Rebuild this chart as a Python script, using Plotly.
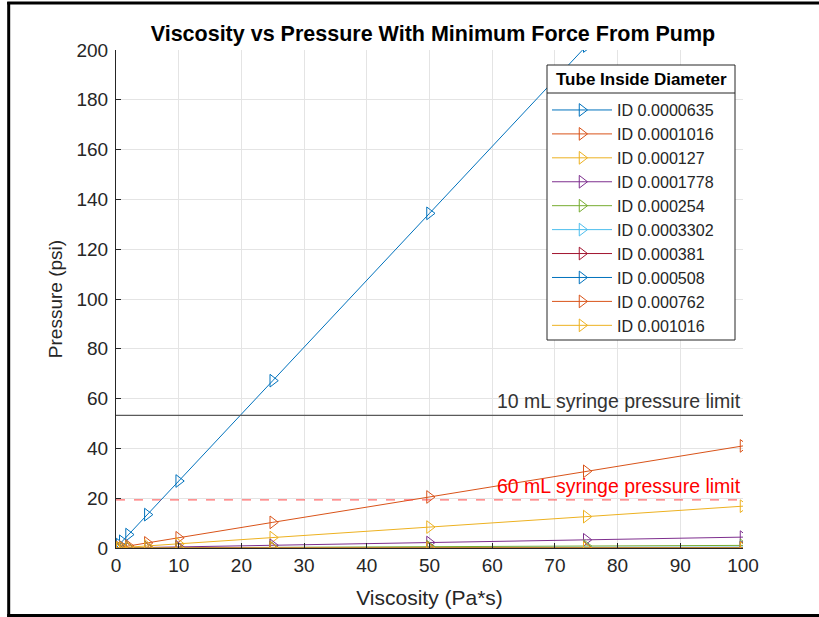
import plotly.graph_objects as go

# ---- data ----
viscosity = [0.1, 0.5, 1, 2, 5, 10, 25, 50, 75, 100]

diameter_labels = ["ID 0.0000635", "ID 0.0001016", "ID 0.000127", "ID 0.0001778",
                   "ID 0.000254", "ID 0.0003302", "ID 0.000381", "ID 0.000508",
                   "ID 0.000762", "ID 0.001016"]

p_0000635 = [0.27, 1.35, 2.69, 5.38, 13.4, 26.9, 67.2, 134.4, 201.6, 268.8]
p_0001016 = [0.04, 0.21, 0.41, 0.82, 2.05, 4.1, 10.3, 20.5, 30.8, 41.0]
p_000127 = [0.017, 0.084, 0.168, 0.34, 0.84, 1.68, 4.2, 8.4, 12.6, 16.8]
p_0001778 = [0.004, 0.022, 0.044, 0.087, 0.22, 0.44, 1.09, 2.19, 3.28, 4.37]
p_000254 = [0.001, 0.005, 0.0105, 0.021, 0.053, 0.105, 0.26, 0.53, 0.79, 1.05]
p_0003302 = [0.0004, 0.0018, 0.0037, 0.0074, 0.018, 0.037, 0.09, 0.18, 0.28, 0.37]
p_000381 = [0.0002, 0.001, 0.0021, 0.0042, 0.0104, 0.021, 0.052, 0.104, 0.156, 0.21]
p_000508 = [0.00007, 0.0003, 0.00066, 0.0013, 0.0033, 0.0066, 0.016, 0.033, 0.049, 0.066]
p_000762 = [0.00001, 0.00007, 0.00013, 0.00026, 0.00065, 0.0013, 0.0033, 0.0065, 0.0098, 0.013]
p_001016 = [0.000004, 0.00002, 0.00004, 0.00008, 0.0002, 0.0004, 0.001, 0.002, 0.003, 0.0041]

pressure_series = [p_0000635, p_0001016, p_000127, p_0001778, p_000254,
                   p_0003302, p_000381, p_000508, p_000762, p_001016]

colors = ["#0072BD", "#D95319", "#EDB120", "#7E2F8E", "#77AC30",
          "#4DBEEE", "#A2142F", "#0072BD", "#D95319", "#EDB120"]

limit_10ml = 53.3
limit_60ml = 19.3
limit_10ml_label = "10 mL syringe pressure limit"
limit_60ml_label = "60 mL syringe pressure limit"
legend_title = "Tube Inside Diameter"

x_ticks = list(range(0, 101, 10))
y_ticks = list(range(0, 201, 20))

FONT = "Liberation Sans, Arial, Helvetica, sans-serif"
TXT = "#262626"

fig = go.Figure()

for name, ys, col in zip(diameter_labels, pressure_series, colors):
    fig.add_trace(go.Scatter(
        x=viscosity, y=ys, name=name, mode="lines+markers",
        line=dict(color=col, width=1),
        marker=dict(symbol="triangle-right-open", size=11, color=col,
                    line=dict(color=col, width=1)),
    ))

# syringe limit lines
fig.add_hline(y=limit_10ml, line=dict(color="#5a5a5a", width=1.2))
fig.add_hline(y=limit_60ml, line=dict(color="rgba(255,60,60,0.75)", width=1.2, dash="dash"))

fig.add_annotation(x=100, y=limit_10ml, xref="x", yref="y", text=limit_10ml_label,
                   showarrow=False, xanchor="right", yanchor="bottom", yshift=1,
                   font=dict(family=FONT, size=19.5, color="#333333"))
fig.add_annotation(x=100, y=limit_60ml, xref="x", yref="y", text=limit_60ml_label,
                   showarrow=False, xanchor="right", yanchor="bottom", yshift=1,
                   font=dict(family=FONT, size=19.5, color="#FF0000"))

# pixel helpers (plot area in page pixels)
L, R, T, B = 116, 743, 50, 548
def px_x(p):
    return (p - L) / (R - L)
def px_y(p):
    return (B - p) / (B - T)

# figure border (left, top, bottom)
border = dict(color="black", width=3)
fig.add_shape(type="line", xref="paper", yref="paper", x0=px_x(8.7), x1=px_x(8.7),
              y0=px_y(2), y1=px_y(617), line=border)
fig.add_shape(type="line", xref="paper", yref="paper", x0=px_x(7.2), x1=px_x(819),
              y0=px_y(3), y1=px_y(3), line=border)
fig.add_shape(type="line", xref="paper", yref="paper", x0=px_x(7.2), x1=px_x(819),
              y0=px_y(615.5), y1=px_y(615.5), line=border)

# legend box, title separator and title
fig.add_shape(type="rect", xref="paper", yref="paper", layer="above",
              x0=px_x(547), x1=px_x(735), y0=px_y(340), y1=px_y(65),
              fillcolor="white", line=dict(color=TXT, width=1))
fig.add_shape(type="line", xref="paper", yref="paper", layer="above",
              x0=px_x(547), x1=px_x(735), y0=px_y(93), y1=px_y(93),
              line=dict(color=TXT, width=1))
fig.add_annotation(x=px_x(641), y=px_y(80), xref="paper", yref="paper",
                   text="<b>" + legend_title + "</b>", showarrow=False,
                   xanchor="center", yanchor="middle",
                   font=dict(family=FONT, size=17, color="black"))

fig.update_layout(
    width=819, height=617,
    margin=dict(l=L, r=819 - R, t=T, b=617 - B, autoexpand=False),
    paper_bgcolor="white", plot_bgcolor="white",
    font=dict(family=FONT, color=TXT),
    title=dict(text="<b>Viscosity vs Pressure With Minimum Force From Pump</b>",
               x=px_x(433), xref="paper", xanchor="center",
               y=1 - 33 / 617, yref="container", yanchor="middle",
               font=dict(family=FONT, size=21.5, color="black")),
    showlegend=True,
    legend=dict(
        x=px_x(547), y=px_y(93), xanchor="left", yanchor="top",
        bgcolor="rgba(0,0,0,0)", borderwidth=0,
        font=dict(family=FONT, size=16.1, color=TXT),
        itemwidth=60,
        tracegroupgap=0,
    ),
)

fig.update_xaxes(
    range=[0, 100], tickvals=x_ticks, ticktext=[str(v) for v in x_ticks],
    showgrid=True, gridcolor="#e4e4e4", gridwidth=1, zeroline=False,
    showline=True, linecolor=TXT, linewidth=1, mirror=False,
    ticks="inside", ticklen=5, tickcolor=TXT,
    tickfont=dict(family=FONT, size=19, color=TXT),
    title=dict(text="Viscosity (Pa*s)", font=dict(family=FONT, size=21, color=TXT), standoff=15),
    automargin=False,
)
fig.update_yaxes(
    range=[0, 200], tickvals=y_ticks, ticktext=[str(v) for v in y_ticks],
    showgrid=True, gridcolor="#e4e4e4", gridwidth=1, zeroline=False,
    showline=True, linecolor=TXT, linewidth=1, mirror=False,
    ticks="inside", ticklen=5, tickcolor=TXT, ticklabelstandoff=3,
    tickfont=dict(family=FONT, size=19, color=TXT),
    title=dict(text="Pressure (psi)", font=dict(family=FONT, size=19, color=TXT), standoff=8),
    automargin=False,
)

fig.write_html("out.html", config={"displayModeBar": False},
               post_script="document.body.style.margin='0';document.body.style.overflow='hidden';")
